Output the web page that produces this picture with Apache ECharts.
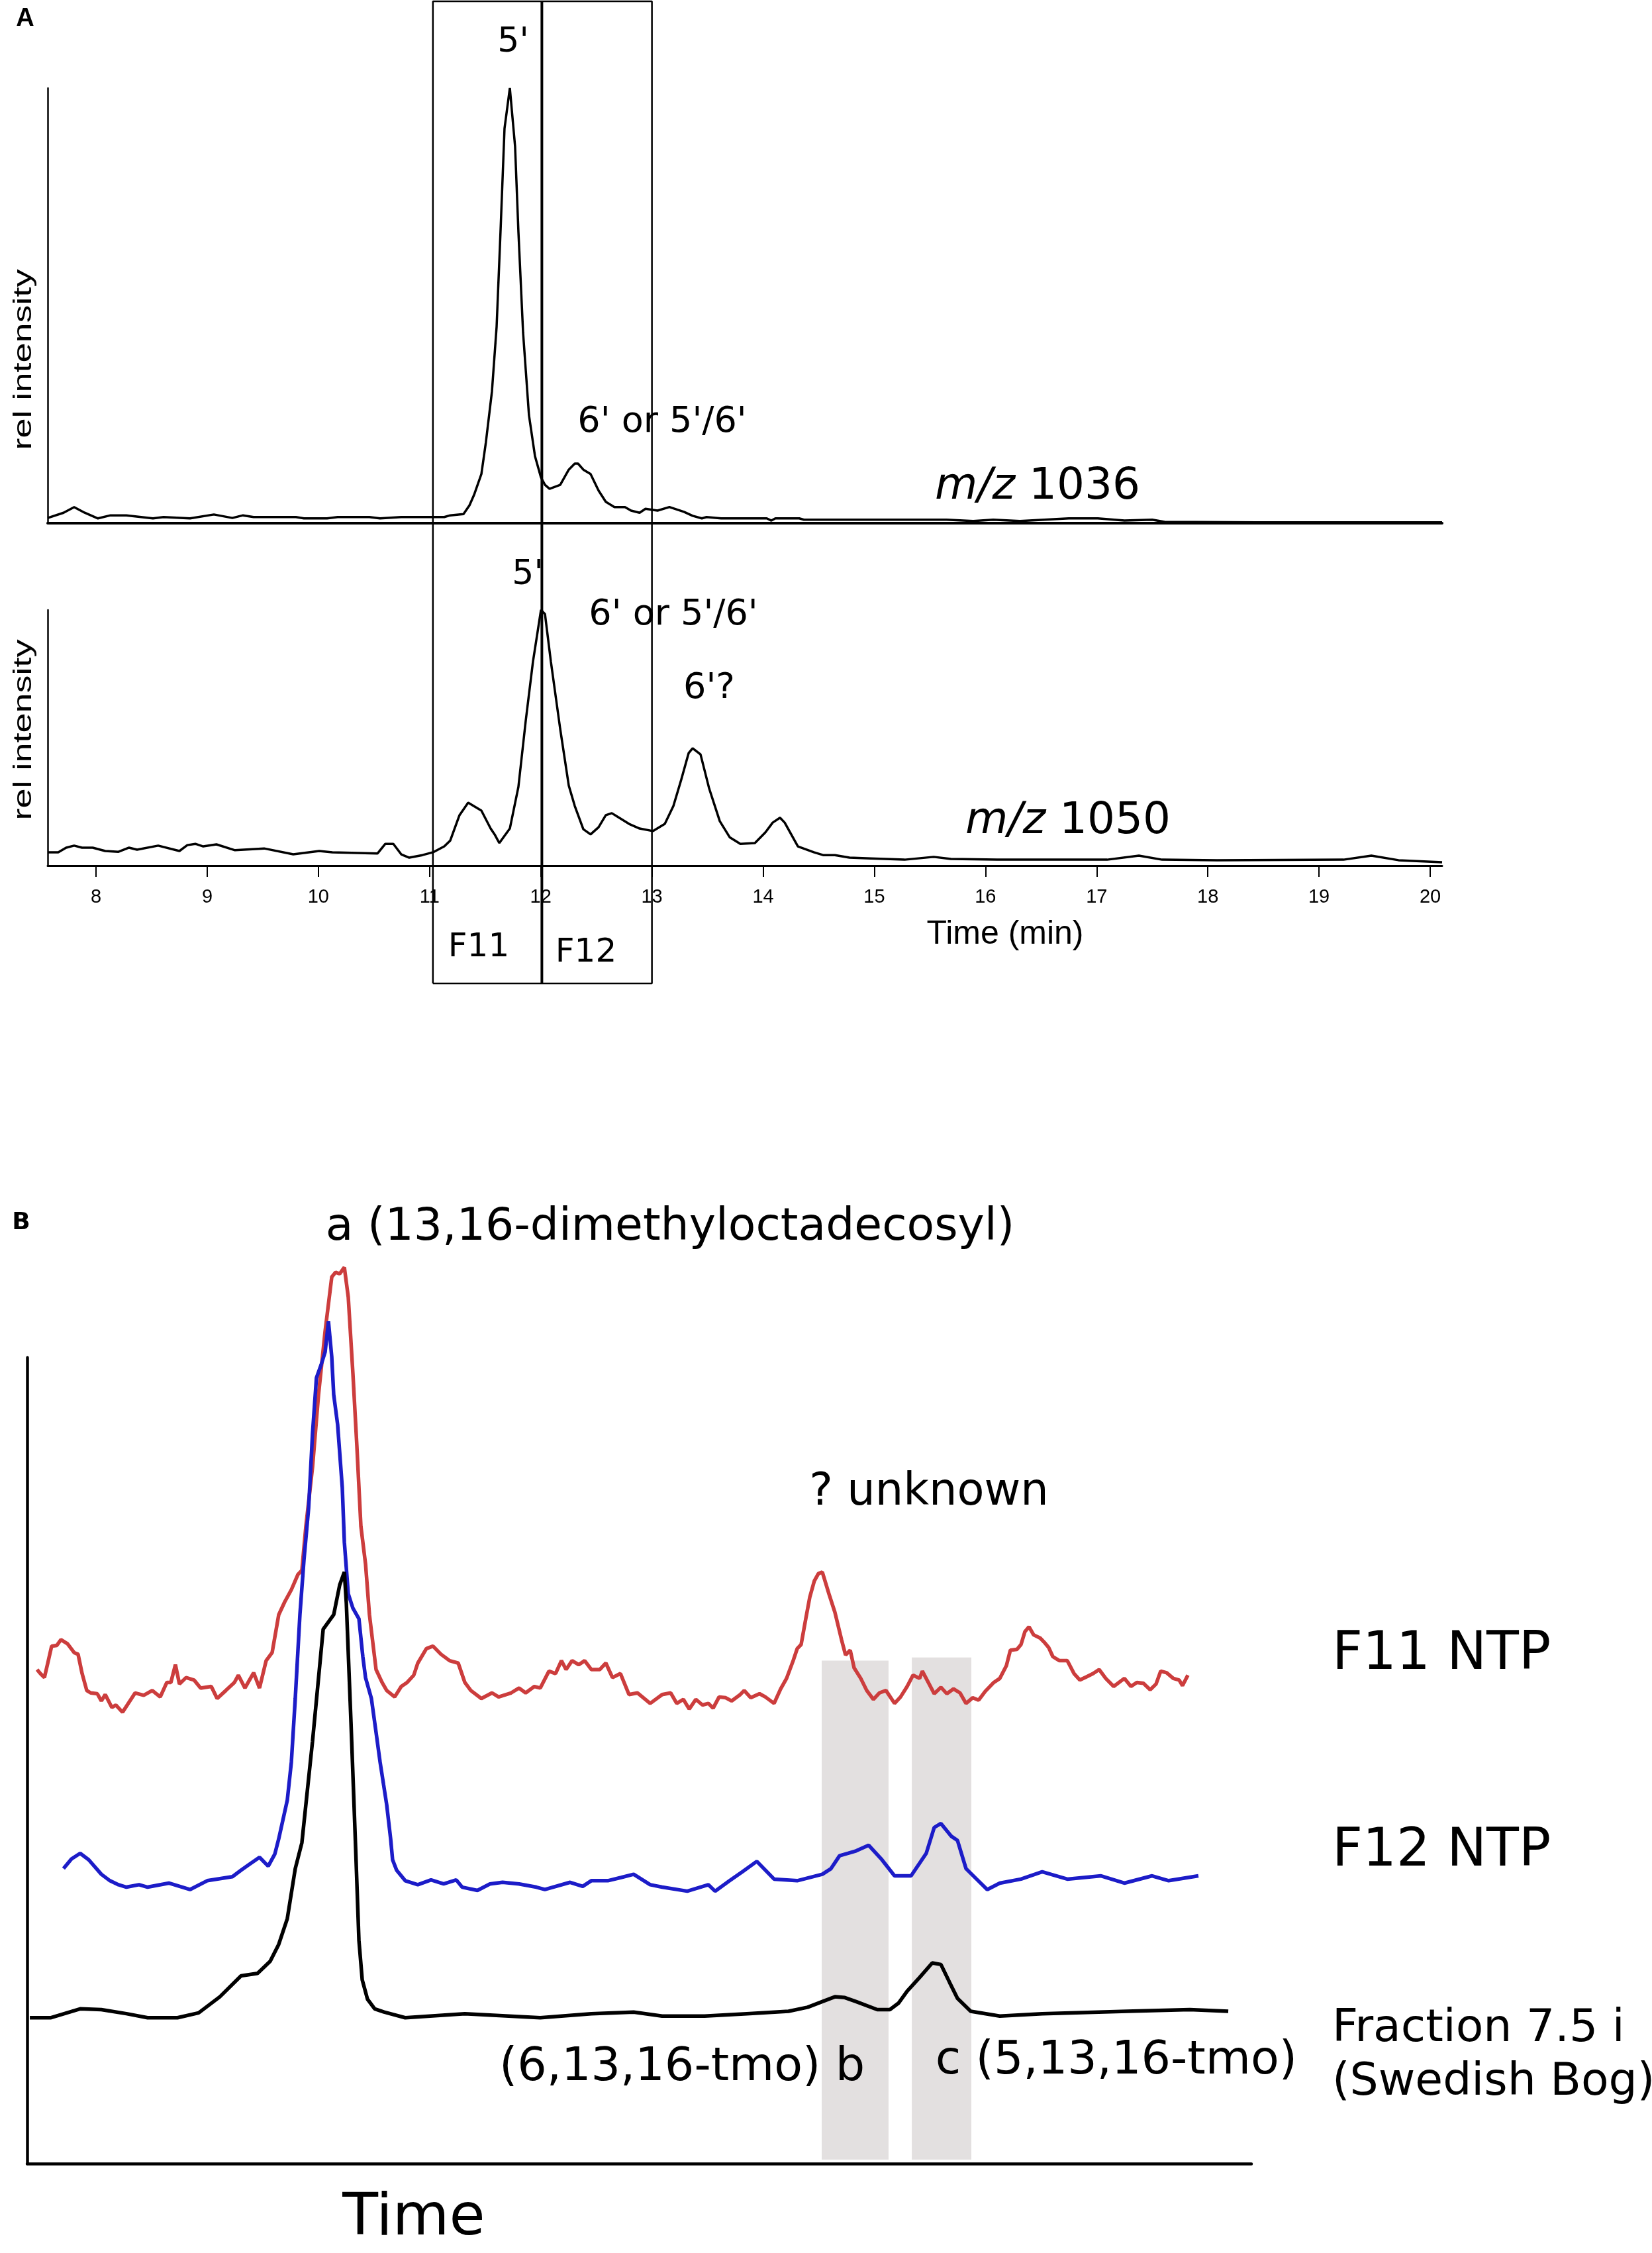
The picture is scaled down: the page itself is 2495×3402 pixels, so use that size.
<!DOCTYPE html>
<html><head><meta charset="utf-8">
<script src="https://cdn.jsdelivr.net/npm/echarts@6/dist/echarts.min.js"></script>
<style>html,body{margin:0;padding:0;background:#fff}#c{width:2495px;height:3402px}</style>
</head><body><div id="c"></div>
<script>
// ---------- Panel A data (time in min, relative intensity 0-100) ----------
const tickLabels = [8, 9, 10, 11, 12, 13, 14, 15, 16, 17, 18, 19, 20];
const timeRange = [7.565, 20.107];
const fractionEdges = [11.03, 12.01, 13.0]; // F11 start, F11/F12 split, F12 end

const mz1036 = [[7.565,1.2],[7.708,2.4],[7.803,3.7],[7.898,2.4],[8.017,1.1],[8.130,1.8],[8.273,1.8],[8.512,1.1],[8.607,1.4],[8.845,1.1],[9.060,2.0],[9.226,1.2],[9.322,1.8],[9.417,1.4],[9.798,1.4],[9.870,1.1],[10.078,1.1],[10.173,1.4],[10.459,1.4],[10.554,1.1],[10.745,1.4],[10.888,1.4],[11.132,1.4],[11.186,1.8],[11.305,2.1],[11.359,4.1],[11.400,6.5],[11.466,11.3],[11.507,18.7],[11.561,30.3],[11.603,45.2],[11.638,67.0],[11.674,90.7],[11.722,100],[11.769,86.6],[11.799,67.0],[11.841,43.8],[11.894,24.8],[11.948,15.4],[12.002,10.5],[12.038,8.8],[12.079,7.9],[12.175,8.8],[12.252,12.3],[12.306,13.7],[12.335,13.7],[12.383,12.3],[12.448,11.3],[12.520,7.5],[12.585,4.9],[12.663,3.7],[12.758,3.7],[12.812,2.9],[12.889,2.4],[12.942,3.3],[13.050,2.9],[13.157,3.7],[13.288,2.6],[13.366,1.7],[13.449,1.1],[13.491,1.4],[13.622,1.1],[14.033,1.1],[14.074,0.6],[14.110,1.1],[14.325,1.1],[14.367,0.8],[14.88,0.8],[15.65,0.8],[15.89,0.5],[16.07,0.8],[16.31,0.5],[16.75,1.1],[17.01,1.1],[17.25,0.6],[17.50,0.8],[17.61,0.3],[18.44,0.2],[20.107,0.2]];

const mz1050 = [[7.565,5.2],[7.660,5.2],[7.731,7.0],[7.803,7.8],[7.874,7.0],[7.970,7.0],[8.083,5.7],[8.202,5.4],[8.297,7.0],[8.369,6.2],[8.559,7.8],[8.750,5.7],[8.821,8.0],[8.893,8.5],[8.964,7.5],[9.083,8.3],[9.250,6.0],[9.512,6.7],[9.774,4.4],[10.007,5.7],[10.126,5.2],[10.531,4.7],[10.602,8.5],[10.674,8.5],[10.745,4.4],[10.817,3.1],[10.936,4.1],[11.031,5.2],[11.132,7.5],[11.186,9.8],[11.269,19.7],[11.347,24.6],[11.466,21.5],[11.549,14.5],[11.585,12.2],[11.627,8.8],[11.722,14.5],[11.799,30.8],[11.865,56.7],[11.930,79.8],[12.002,100],[12.038,98.4],[12.091,79.8],[12.175,53.4],[12.252,31.3],[12.306,23.3],[12.383,14.2],[12.448,12.2],[12.520,15.0],[12.585,19.7],[12.639,20.5],[12.705,18.7],[12.794,16.3],[12.889,14.5],[13.008,13.5],[13.116,16.3],[13.193,23.3],[13.264,33.7],[13.330,44.0],[13.366,45.9],[13.437,43.5],[13.515,30.1],[13.610,17.4],[13.699,11.1],[13.795,8.5],[13.926,8.8],[14.021,13.0],[14.086,16.8],[14.152,18.7],[14.194,16.8],[14.313,7.5],[14.456,5.2],[14.539,4.1],[14.646,4.1],[14.777,3.1],[14.968,2.8],[15.272,2.3],[15.534,3.4],[15.689,2.6],[16.105,2.3],[17.094,2.3],[17.380,3.9],[17.589,2.3],[18.083,2.1],[19.220,2.3],[19.471,3.9],[19.715,2.1],[20.107,1.3]];

// ---------- Panel B data (arbitrary time 0-100, stacked intensity) ----------
const f11NTP = [[0.81,61.3],[1.08,60.8],[1.41,60.3],[1.73,62.4],[2.00,64.2],[2.43,64.3],[2.76,65.0],[3.30,64.5],[3.84,63.4],[4.16,63.2],[4.49,60.8],[4.87,58.7],[5.19,58.4],[5.73,58.3],[6.06,57.4],[6.38,58.2],[6.92,56.6],[7.25,56.9],[7.79,56.0],[8.82,58.4],[9.52,58.1],[10.22,58.7],[10.87,57.9],[11.41,59.7],[11.74,59.7],[12.11,61.9],[12.44,59.5],[12.98,60.3],[13.63,60.0],[14.17,59.0],[15.04,59.2],[15.52,57.7],[16.23,58.7],[16.93,59.7],[17.25,60.6],[17.79,59.0],[18.50,60.9],[18.98,59.0],[19.52,62.4],[20.01,63.4],[20.55,68.1],[21.04,69.7],[21.58,71.2],[22.12,73.1],[22.44,73.6],[22.77,79.1],[23.31,86.4],[23.80,95.4],[24.34,103.3],[24.88,110.0],[25.20,110.6],[25.53,110.4],[25.91,111.2],[26.23,107.5],[26.61,98.0],[26.93,89.1],[27.26,79.1],[27.64,74.4],[27.96,68.1],[28.50,61.3],[28.99,59.7],[29.37,58.7],[30.02,57.9],[30.56,59.2],[31.04,59.7],[31.58,60.6],[31.91,62.1],[32.61,63.9],[33.15,64.2],[33.80,63.2],[34.51,62.4],[35.21,62.1],[35.75,59.7],[36.24,58.7],[37.10,57.7],[37.97,58.4],[38.51,57.9],[39.53,58.4],[40.18,59.0],[40.72,58.4],[41.43,59.2],[41.91,59.0],[42.62,61.1],[43.16,60.8],[43.64,62.4],[44.02,61.3],[44.51,62.4],[45.05,61.9],[45.54,62.4],[46.08,61.3],[46.78,61.3],[47.27,62.1],[47.81,60.3],[48.46,60.8],[49.16,58.2],[49.86,58.4],[50.89,57.1],[51.87,58.2],[52.57,58.4],[53.06,57.1],[53.60,57.6],[54.08,56.4],[54.62,57.6],[55.16,56.9],[55.65,57.1],[56.03,56.5],[56.52,57.9],[57.06,57.8],[57.54,57.4],[58.25,58.2],[58.57,58.7],[59.11,57.8],[59.82,58.3],[60.30,57.9],[61.01,57.1],[61.55,58.9],[62.03,60.2],[62.57,62.4],[62.90,63.9],[63.22,64.4],[63.60,67.6],[63.93,70.3],[64.30,72.3],[64.63,73.2],[64.95,73.4],[65.49,70.7],[65.98,68.4],[66.52,65.0],[66.85,63.1],[67.23,63.7],[67.55,61.5],[68.09,60.2],[68.58,58.7],[69.12,57.6],[69.61,58.4],[70.15,58.7],[70.85,57.1],[71.34,57.9],[71.88,59.2],[72.36,60.6],[72.90,60.2],[73.12,61.1],[73.61,59.7],[74.09,58.3],[74.64,59.1],[75.12,58.3],[75.66,58.9],[76.20,58.4],[76.69,57.1],[77.23,57.8],[77.72,57.5],[78.26,58.6],[78.96,59.7],[79.45,60.2],[79.99,61.8],[80.31,63.7],[80.85,63.8],[81.18,64.4],[81.50,66.0],[81.83,66.6],[82.21,65.6],[82.75,65.2],[83.07,64.7],[83.45,64.0],[83.78,62.9],[84.32,62.4],[84.96,62.4],[85.51,60.8],[85.99,60.0],[86.53,60.4],[87.07,60.8],[87.56,61.3],[88.10,60.2],[88.75,59.2],[89.62,60.2],[90.16,59.2],[90.64,59.7],[91.18,59.6],[91.73,58.8],[92.21,59.5],[92.59,61.1],[93.08,60.9],[93.62,60.2],[94.10,60.0],[94.37,59.3],[94.81,60.6]];

const f12NTP = [[2.97,36.6],[3.62,37.8],[4.33,38.5],[5.03,37.7],[6.06,35.9],[6.76,35.1],[7.46,34.6],[8.11,34.3],[9.14,34.6],[9.84,34.3],[11.57,34.8],[13.30,34.0],[14.71,35.1],[16.77,35.6],[17.47,36.4],[18.12,37.1],[18.98,38.0],[19.69,36.9],[20.23,38.4],[20.55,40.3],[21.25,45.1],[21.58,49.8],[21.90,57.7],[22.28,68.1],[22.61,74.9],[22.99,81.3],[23.31,90.6],[23.63,97.5],[24.01,99.1],[24.34,100.7],[24.61,104.5],[24.88,100.1],[25.04,95.4],[25.36,91.7],[25.74,83.9],[25.91,77.1],[26.23,70.7],[26.61,68.9],[27.10,67.6],[27.42,62.9],[27.64,60.3],[28.12,57.7],[28.50,53.5],[28.83,49.8],[29.37,44.5],[29.69,40.3],[29.85,37.7],[30.18,36.4],[30.88,35.1],[31.91,34.6],[32.99,35.2],[34.02,34.7],[35.05,35.2],[35.53,34.3],[36.78,33.9],[37.80,34.7],[38.83,34.9],[40.18,34.7],[41.59,34.3],[42.29,34.0],[44.35,34.9],[45.38,34.4],[46.08,35.1],[47.43,35.1],[48.51,35.5],[49.54,35.9],[50.89,34.6],[51.87,34.3],[53.92,33.8],[55.65,34.6],[56.19,33.8],[57.38,35.1],[58.41,36.2],[59.60,37.5],[61.01,35.3],[62.90,35.1],[64.95,35.9],[65.66,36.6],[66.36,38.2],[67.06,38.5],[67.71,38.8],[68.74,39.5],[69.82,37.7],[70.85,35.7],[72.20,35.7],[73.44,38.5],[74.09,41.7],[74.64,42.2],[75.50,40.6],[75.99,40.1],[76.69,36.6],[77.55,35.3],[78.42,34.0],[79.45,34.8],[81.18,35.3],[82.91,36.2],[84.96,35.3],[87.72,35.7],[89.62,34.8],[91.89,35.7],[93.24,35.1],[95.67,35.7]];

const fraction75i = [[0.22,18.1],[1.95,18.1],[4.33,19.2],[6.06,19.1],[8.11,18.6],[9.84,18.1],[12.28,18.1],[14.01,18.7],[15.74,20.7],[17.47,23.3],[18.82,23.6],[19.85,25.1],[20.55,27.2],[21.25,30.4],[21.90,36.6],[22.44,39.8],[23.31,52.4],[24.18,66.3],[25.04,68.1],[25.53,71.8],[25.91,73.4],[26.07,69.6],[26.45,54.8],[26.83,39.2],[27.10,27.7],[27.37,22.8],[27.80,20.4],[28.39,19.2],[29.15,18.8],[30.88,18.1],[35.75,18.6],[41.91,18.1],[46.08,18.6],[49.54,18.8],[51.87,18.3],[55.33,18.3],[58.79,18.6],[62.19,18.9],[63.76,19.4],[64.95,20.1],[65.98,20.7],[66.79,20.6],[67.71,20.1],[69.44,19.1],[70.47,19.1],[71.17,19.9],[71.88,21.4],[72.90,23.1],[73.93,24.9],[74.64,24.7],[75.34,22.5],[75.99,20.5],[77.07,18.9],[79.45,18.3],[82.91,18.6],[89.83,18.9],[94.97,19.1],[98.11,18.9]];

// shaded bands: [start, end, top]
const grayBands = [[64.90, 70.36, 62.4], [72.26, 77.12, 62.8]];

// ---------- chart ----------
const chart = echarts.init(document.getElementById('c'));
const ANN = '"DejaVu Sans"';
const ARL = '"Liberation Sans"';
const DY = 7;
function txt(text, x, y, size, opts) {
  opts = opts || {};
  return {
    type: 'text', x: x, y: y + DY, z: 100,
    rotation: opts.rotation || 0,
    scaleX: opts.scaleX || 1, scaleY: opts.scaleY || 1,
    style: {
      text: text,
      font: (opts.weight ? opts.weight + ' ' : '') + size + 'px ' + (opts.family || ANN),
      fill: '#000',
      align: opts.align || 'center',
      verticalAlign: 'middle',
      rich: opts.rich
    }
  };
}
const italicRich = function (size) {
  return { i: { fontStyle: 'italic', fontSize: size, fontFamily: 'DejaVu Sans', fill: '#000' } };
};

const e = fractionEdges;
const boxOutline = [[e[0], 0], [e[0], 1], [e[2], 1], [e[2], 0], [e[0], 0]];
const boxSplit = [[e[1], 0], [e[1], 1]];

const option = {
  animation: false,
  backgroundColor: '#fff',
  grid: [
    { left: 72, top: 133, width: 2106, height: 657 },
    { left: 72, top: 921, width: 2106, height: 386 },
    { left: 72, top: 2, width: 2106, height: 1483 },
    { left: 41, top: 2050, width: 1849, height: 1217 }
  ],
  xAxis: [
    { gridIndex: 0, type: 'value', min: timeRange[0], max: timeRange[1],
      axisLine: { show: true, onZero: false, lineStyle: { color: '#000', width: 4 } },
      axisTick: { show: false }, axisLabel: { show: false }, splitLine: { show: false } },
    { gridIndex: 1, type: 'value', min: timeRange[0], max: timeRange[1],
      axisLine: { show: true, onZero: false, lineStyle: { color: '#000', width: 3 } },
      axisTick: { show: true, customValues: tickLabels, length: 17, lineStyle: { color: '#000', width: 2 } },
      axisLabel: { show: true, customValues: tickLabels, fontSize: 29, fontFamily: 'Liberation Sans', color: '#000', margin: 33 },
      splitLine: { show: false } },
    { gridIndex: 2, type: 'value', min: timeRange[0], max: timeRange[1], show: false },
    { gridIndex: 3, type: 'value', min: 0, max: 100,
      axisLine: { show: true, onZero: false, lineStyle: { color: '#000', width: 4.5 } },
      axisTick: { show: false }, axisLabel: { show: false }, splitLine: { show: false } }
  ],
  yAxis: [
    { gridIndex: 0, type: 'value', min: 0, max: 100,
      axisLine: { show: true, onZero: false, lineStyle: { color: '#000', width: 2.5 } },
      axisTick: { show: false }, axisLabel: { show: false }, splitLine: { show: false } },
    { gridIndex: 1, type: 'value', min: 0, max: 100,
      axisLine: { show: true, onZero: false, lineStyle: { color: '#000', width: 2.5 } },
      axisTick: { show: false }, axisLabel: { show: false }, splitLine: { show: false } },
    { gridIndex: 2, type: 'value', min: 0, max: 1, show: false },
    { gridIndex: 3, type: 'value', min: 0, max: 100,
      axisLine: { show: true, onZero: false, lineStyle: { color: '#000', width: 4.5 } },
      axisTick: { show: false }, axisLabel: { show: false }, splitLine: { show: false } }
  ],
  series: [
    { type: 'line', xAxisIndex: 0, yAxisIndex: 0, data: mz1036, showSymbol: false, clip: false,
      lineStyle: { color: '#000', width: 3.5 }, z: 3 },
    { type: 'line', xAxisIndex: 1, yAxisIndex: 1, data: mz1050, showSymbol: false, clip: false,
      lineStyle: { color: '#000', width: 3.5 }, z: 3 },
    { type: 'line', xAxisIndex: 2, yAxisIndex: 2, data: boxOutline, showSymbol: false, clip: false,
      lineStyle: { color: '#000', width: 2.5 }, z: 4 },
    { type: 'line', xAxisIndex: 2, yAxisIndex: 2, data: boxSplit, showSymbol: false, clip: false,
      lineStyle: { color: '#000', width: 4 }, z: 4 },
    { type: 'custom', xAxisIndex: 3, yAxisIndex: 3, data: grayBands, z: 1, clip: false,
      renderItem: function (params, api) {
        const p0 = api.coord([api.value(0), api.value(2)]);
        const p1 = api.coord([api.value(1), 0.5]);
        return { type: 'rect', shape: { x: p0[0], y: p0[1], width: p1[0] - p0[0], height: p1[1] - p0[1] },
                 style: { fill: '#e3e0e0' } };
      } },
    { type: 'line', name: 'F11 NTP', xAxisIndex: 3, yAxisIndex: 3, data: f11NTP, showSymbol: false, clip: false,
      lineStyle: { color: '#cc3d3d', width: 5.5 }, z: 3 },
    { type: 'line', name: 'F12 NTP', xAxisIndex: 3, yAxisIndex: 3, data: f12NTP, showSymbol: false, clip: false,
      lineStyle: { color: '#1c1cc8', width: 5.5 }, z: 3 },
    { type: 'line', name: 'Fraction 7.5 i', xAxisIndex: 3, yAxisIndex: 3, data: fraction75i, showSymbol: false, clip: false,
      lineStyle: { color: '#000', width: 5.5 }, z: 3 }
  ],
  graphic: [
    // Panel A
    txt('A', 38, 22, 38, { weight: 'bold', family: ARL }),
    txt("5'", 775, 57, 52),
    txt("6' or 5'/6'", 1000, 631, 54),
    txt('{i|m/z} 1036', 1567, 729, 66, { rich: italicRich(66) }),
    txt('rel intensity', 36, 536, 54, { family: ARL, rotation: Math.PI / 2, scaleY: 0.72 }),
    txt('rel intensity', 36, 1095, 54, { family: ARL, rotation: Math.PI / 2, scaleY: 0.72 }),
    txt("5'", 797, 861, 52),
    txt("6' or 5'/6'", 1017, 922, 54),
    txt("6'?", 1071, 1033, 54),
    txt('{i|m/z} 1050', 1613, 1234, 66, { rich: italicRich(66) }),
    txt('F11', 723, 1424, 50),
    txt('F12', 885, 1432, 50),
    txt('Time (min)', 1518, 1404, 50, { family: ARL }),
    // Panel B
    txt('B', 32, 1840, 36, { weight: 'bold' }),
    txt('a (13,16-dimethyloctadecosyl)', 1012, 1847, 68),
    txt('? unknown', 1403, 2248, 67),
    txt('F11 NTP', 2012, 2492, 80, { align: 'left' }),
    txt('F12 NTP', 2012, 2789, 80, { align: 'left' }),
    txt('Fraction 7.5 i', 2012, 3057, 68, { align: 'left' }),
    txt('(Swedish Bog)', 2012, 3138, 68, { align: 'left' }),
    txt('(6,13,16-tmo) b', 1030, 3116, 70),
    txt('c (5,13,16-tmo)', 1686, 3106, 70),
    txt('Time', 625, 3344, 88)
  ]
};
chart.setOption(option);
</script>
</body></html>
